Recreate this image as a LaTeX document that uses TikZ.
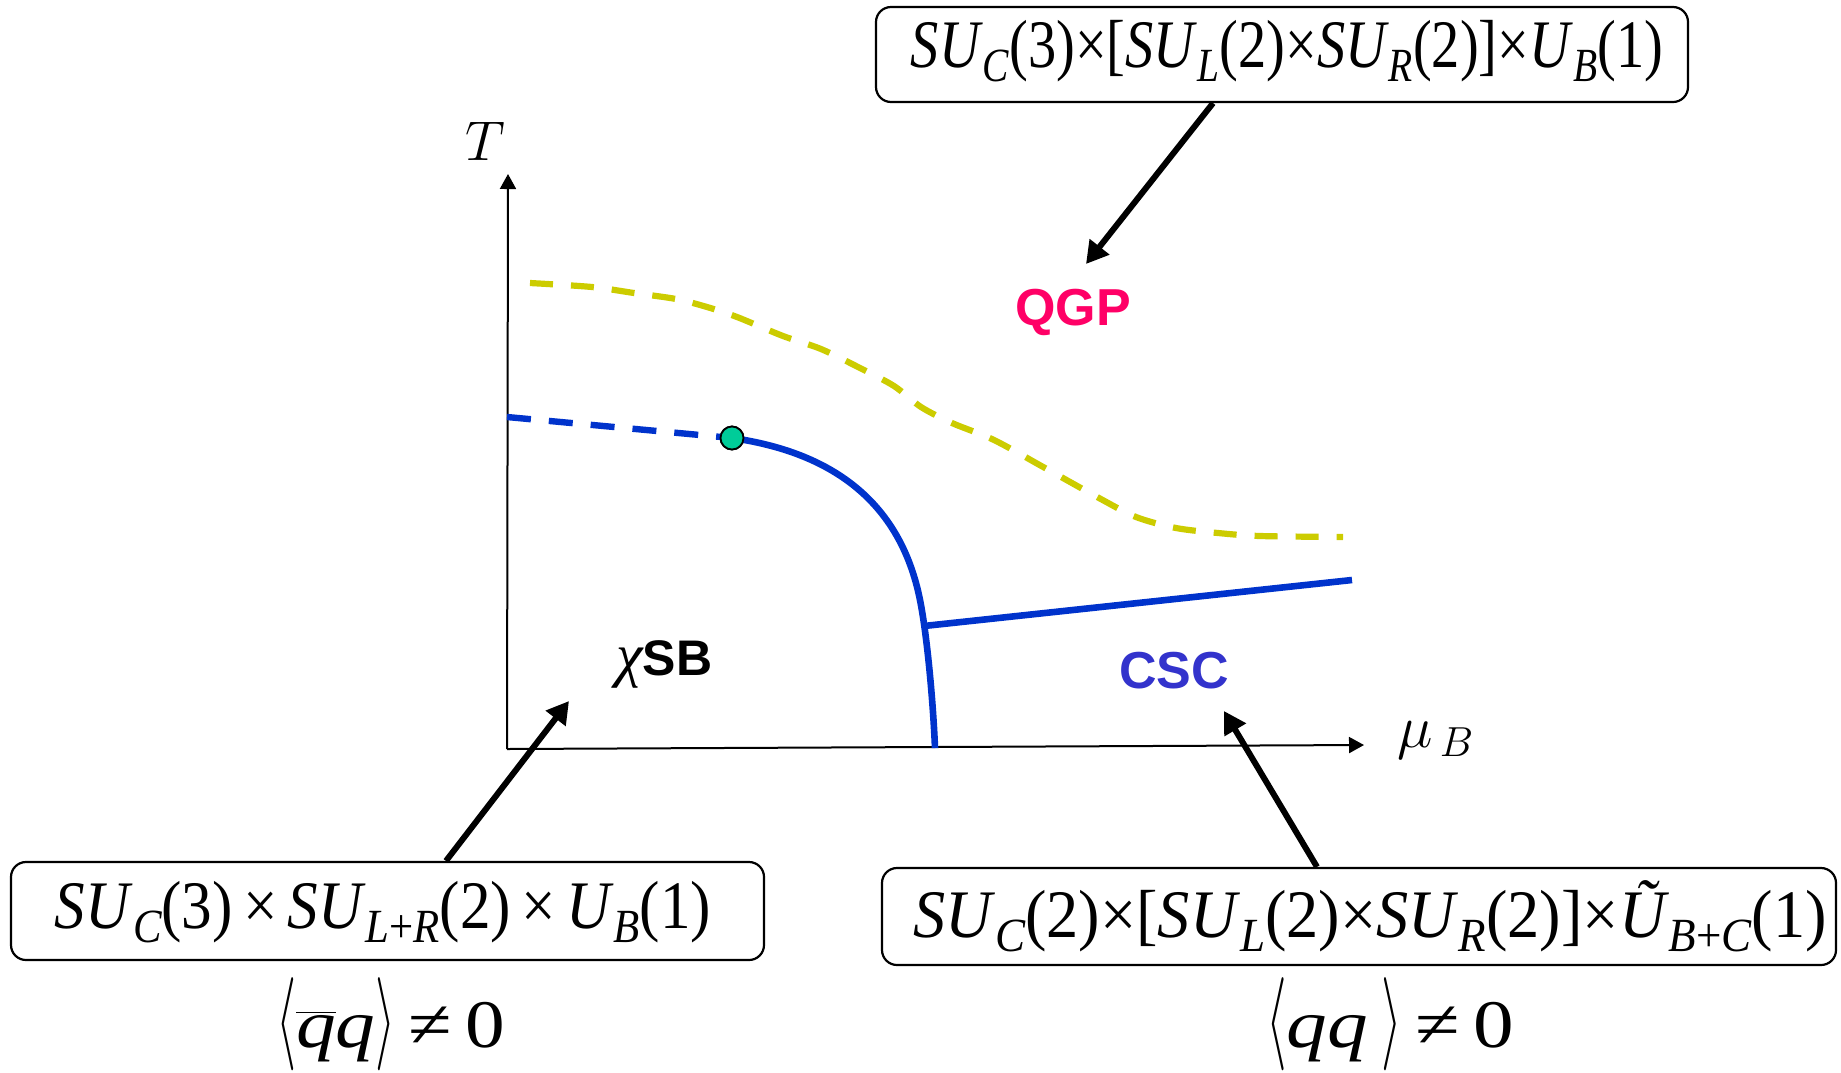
\documentclass[tikz,border=0pt]{standalone}
\usepackage{fix-cm}
\usepackage{fontspec}
\usepackage{graphicx}
\usetikzlibrary{arrows.meta}
\setmainfont{Liberation Serif}
\newfontfamily\arialf{Liberation Sans}
\newfontfamily\timesf{Liberation Serif}
\definecolor{bl}{HTML}{0033CC}
\definecolor{yl}{HTML}{CCCC00}
\definecolor{gr}{HTML}{00CC99}
\definecolor{qgpcol}{HTML}{FF0066}
\definecolor{csccol}{HTML}{3333CC}
\newcommand\fitw[2]{\resizebox{#1}{\height}{#2}}
\newcommand\sbx[1]{\raisebox{-0.22em}{\scalebox{0.7}{\itshape #1}}}
\newcommand\II[1]{\textit{#1}}
\newcommand\lang{\scalebox{0.65}[1.37]{$\langle$}}
\newcommand\rang{\scalebox{0.65}[1.37]{$\rangle$}}
\tikzset{
 symbox/.style={draw, line width=1.1pt, rounded corners=7.5pt, inner sep=0pt, font=\fontsize{34}{40}\selectfont},
 formula/.style={inner sep=0pt, font=\fontsize{34}{40}\selectfont},
 axisline/.style={line width=1pt, -{Triangle[length=7.5pt,width=8pt]}},
 ptr/.style={line width=3pt, -{Triangle[length=11pt,width=12pt]}},
 bluephase/.style={draw=bl, line width=3.3pt},
 crossover/.style={draw=bl, line width=3.2pt, dash pattern=on 12pt off 9pt},
 deconf/.style={draw=yl, line width=3.1pt, dash pattern=on 11.5pt off 9pt},
 region/.style={inner sep=0pt, font=\arialf\bfseries\fontsize{26}{30}\selectfont},
 cpoint/.style={circle, draw=black, line width=0.9pt, fill=gr, minimum size=11.5pt, inner sep=0pt},
 axlabel/.style={inner sep=0pt, anchor=base west, font=\fontsize{28}{32}\selectfont}
}
\begin{document}
\begin{tikzpicture}[x=0.5pt,y=-0.5pt]
\useasboundingbox (0,0) rectangle (1841,1072);

% axes
\coordinate (O) at (507,749);
\coordinate (Ttip) at (508,174);
\coordinate (Mtip) at (1364,745);
\draw[axisline] (O) -- (Ttip);
\draw[axisline] (O) -- (Mtip);
\node[axlabel] (Tlab) at (465,160) {$T$};
\node[axlabel, font=\fontsize{30}{34}\selectfont] (Mlab) at (1397,747) {$\mu_{\,B}$};

% deconfinement (yellow dashed)
\draw[deconf] plot[smooth, tension=0.5] coordinates {(530,283) (592,287) (634,293) (676,299) (707,307) (737,317) (783,336) (821,349) (860,368) (894,386) (921,407) (952,423) (994,440) (1045,468) (1099,498) (1136,517) (1176,528) (1218,533) (1260,536) (1343,537)};

% chiral crossover and transition
\node[cpoint] (cp) at (732,438) {};
\coordinate (Tax) at (507,417);
\draw[crossover] (Tax) -- (cp.center);
\coordinate (bend) at (920,600);
\coordinate (foot) at (935,748);
\draw[bluephase] (cp.center) .. controls (830,452) and (900,500) .. (bend)
  .. controls (927,635) and (933,700) .. (foot);
\coordinate (tp) at (924,626);
\coordinate (cscend) at (1352,580);
\draw[bluephase] (tp) -- (cscend);
\node[cpoint] at (cp.center) {};

% region labels
\node[region, text=qgpcol, anchor=base] (qgp) at (1073,325) {QGP};
\node[region, anchor=base west, font=\arialf\bfseries\fontsize{25}{30}\selectfont] (xsb) at (616,675) {{\timesf\mdseries\itshape\fontsize{30}{34}\selectfont χ}SB};
\node[region, text=csccol, anchor=base] (csc) at (1174,688) {CSC};

% symmetry boxes
\node[symbox, minimum width=406pt, minimum height=47.5pt, text height=24.5pt, text depth=12pt] (topbox) at (1282,54.5)
 {\hspace*{5pt}\fitw{376pt}{\II{SU}\sbx{C}(3)×[\II{SU}\sbx{L}(2)×\II{SU}\sbx{R}(2)]×\II{U}\sbx{B}(1)}};
\node[symbox, minimum width=376.5pt, minimum height=49pt, text height=28pt, text depth=11pt] (lbox) at (387.5,911)
 {\fitw{328pt}{\II{SU}\sbx{C}(3)\,×\,\II{SU}\sbx{L{\upshape +}R}(2)\,×\,\II{U}\sbx{B}(1)}\hspace*{4.5pt}};
\node[symbox, minimum width=477pt, minimum height=48.5pt, text height=30pt, text depth=9.5pt] (rbox) at (1359,916.5)
 {\hspace*{11pt}\fitw{457pt}{\II{SU}\sbx{C}(2)×[\II{SU}\sbx{L}(2)×\II{SU}\sbx{R}(2)]×\II{Ũ}\sbx{B{\upshape +}C}(1)}};

% condensates
\node[formula, anchor=base] (lcond) at (390.5,1047) {\fitw{114.5pt}{\lang$\overline{\hbox{\itshape q}}$\II{q}\rang\,≠\,0}};
\node[formula, anchor=base] (rcond) at (1390,1047) {\fitw{124pt}{\lang\II{qq}\,\rang\,≠\,0}};

% pointers
\coordinate (qgptip) at (1086,264);
\coordinate (xsbtip) at (569,701);
\coordinate (csctip) at (1224,711);
\draw[ptr] ([xshift=-34.5pt]topbox.south) -- (qgptip);
\draw[ptr] ([xshift=29.25pt]lbox.north) -- (xsbtip);
\draw[ptr] ([xshift=-21pt]rbox.north) -- (csctip);
\end{tikzpicture}
\end{document}
